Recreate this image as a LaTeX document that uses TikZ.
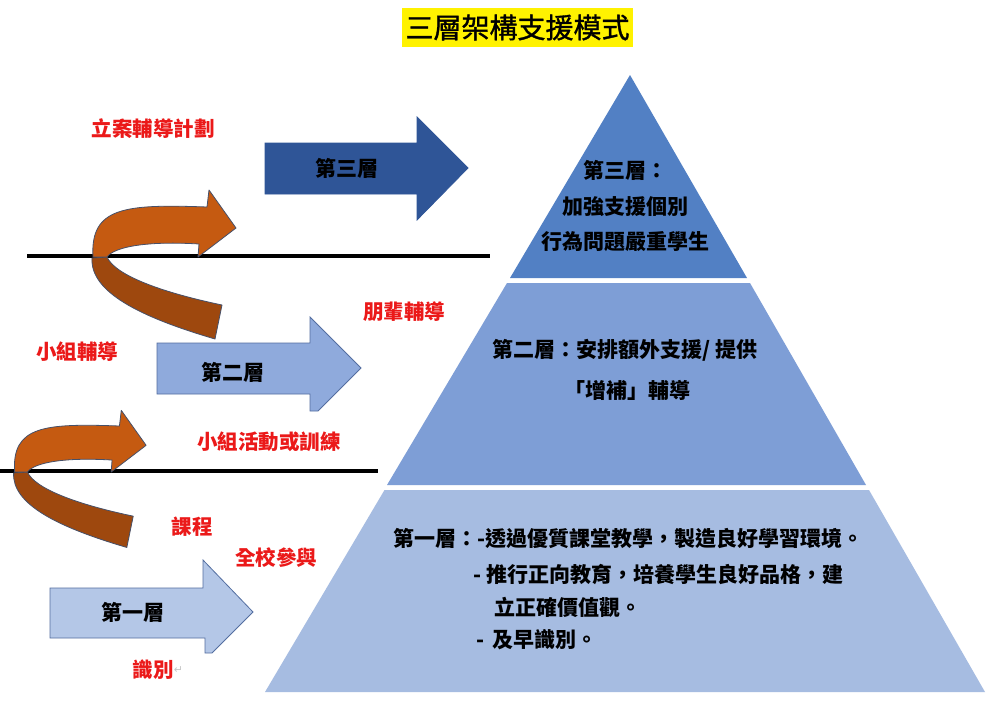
\documentclass[tikz,border=0pt]{standalone}
\usepackage{fontspec}
\setmainfont{Noto Sans CJK TC}
\newfontfamily\titlefont{Noto Sans CJK TC}[FakeBold=1.2]
\newfontfamily\dejavu{DejaVu Sans}

\definecolor{tierA}{RGB}{82,128,196}
\definecolor{tierB}{RGB}{126,158,214}
\definecolor{tierC}{RGB}{166,188,225}
\definecolor{arrDark}{RGB}{47,85,151}
\definecolor{arrMid}{RGB}{143,170,220}
\definecolor{arrLight}{RGB}{180,199,231}
\definecolor{arrEdge}{RGB}{84,110,160}
\definecolor{orangeF}{RGB}{197,90,17}
\definecolor{orangeB}{RGB}{158,72,14}
\definecolor{curveEdge}{RGB}{70,80,105}
\definecolor{labelred}{RGB}{235,25,25}

\tikzset{
  redlabel/.style={text=labelred, font=\fontsize{20.5}{22}\selectfont\bfseries, inner sep=0pt},
  tiertext/.style={text=black, font=\fontsize{21}{23}\selectfont\bfseries, inner sep=0pt},
  blocklabel/.style={text=black, font=\fontsize{21}{23}\selectfont\bfseries, inner sep=0pt},
  divider/.style={line width=3.5pt, black},
  curvefront/.style={fill=orangeF, draw=curveEdge, line width=0.8pt, line join=round},
  curveback/.style={fill=orangeB, draw=curveEdge, line width=0.8pt, line join=round},
  tier/.style={draw=none}
}

\newcommand{\uturnarrow}{%
  \path[curveback] (-8,1) .. controls (-10,35) and (40,60) .. (115,82)
     -- (122,48) .. controls (60,35) and (15,18) .. (7,0) -- cycle;
  \path[curvefront] (-7,0) .. controls (-10,-50) and (25,-53) .. (107,-50)
     -- (109,-67) -- (136,-29) -- (98,0) -- (99,-13)
     .. controls (50,-16) and (15,-11) .. (7,0) -- cycle;
}

\begin{document}
\begin{tikzpicture}[x=1pt,y=-1pt]
\useasboundingbox[fill=white] (0,0) rectangle (1000,717);

% title
\node[fill=yellow, minimum width=231pt, minimum height=39pt, inner sep=0pt,
      font=\titlefont\fontsize{28}{30}\selectfont] (title) at (517.5,27.5) {三層架構支援模式};

% pyramid tiers
\fill[tierA] (630,75) -- (747,278) -- (510,278) -- cycle;
\fill[tierB] (507,283) -- (750,283) -- (866,485) -- (387,485) -- cycle;
\fill[tierC] (384.5,490) -- (869,490) -- (985,692) -- (265,692) -- cycle;

% pyramid texts
\node[tiertext] (t3a) at (625,170) {第三層：};
\node[tiertext] (t3b) at (625,207) {加強支援個別};
\node[tiertext] (t3c) at (625,242) {行為問題嚴重學生};

\node[tiertext] (t2a) at (625,350) {第二層：安排額外支援/ 提供};
\node[tiertext] (t2b) at (627,390) {「增補」輔導};

\node[tiertext, anchor=west] (t1a) at (393,539) {第一層：-透過優質課堂教學，製造良好學習環境。};
\node[tiertext, anchor=west] (t1b) at (473,575) {- 推行正向教育，培養學生良好品格，建};
\node[tiertext, anchor=west] (t1c) at (494,607) {立正確價值觀。};
\node[tiertext, anchor=west] (t1d) at (476,640) {-\hspace{8pt}及早識別。};

% divider lines
\coordinate (l1a) at (27,256);
\coordinate (l1b) at (490,256);
\coordinate (l2a) at (0,471);
\coordinate (l2b) at (378,471);
\draw[divider] (l1a) -- (l1b);
\draw[divider] (l2a) -- (l2b);

% block arrows
\draw[fill=arrDark, draw=arrDark, line width=0.8pt, line join=miter]
  (265,143) -- (417,143) -- (417,117) -- (468,168) -- (417,220) -- (417,194) -- (265,194) -- cycle;
\node[blocklabel] (b3) at (347,168) {第三層};

\draw[fill=arrMid, draw=arrEdge, line width=0.8pt]
  (157,343) -- (310,343) -- (310,317) -- (361,368) -- (318,411) -- (310,411) -- (310,394) -- (157,394) -- cycle;
\node[blocklabel] (b2) at (233,372) {第二層};

\draw[fill=arrLight, draw=arrEdge, line width=0.8pt]
  (50,588) -- (203,588) -- (203,560) -- (253,612) -- (212,653) -- (205,653) -- (205,638) -- (50,638) -- cycle;
\node[blocklabel] (b1) at (133,612) {第一層};

% curved (u-turn) arrows
\begin{scope}[shift={(100,257)}]
  \uturnarrow
\end{scope}
\begin{scope}[shift={(21,472)}, scale=0.92]
  \uturnarrow
\end{scope}

% red labels
\node[redlabel] (r1) at (153,129) {立案輔導計劃};
\node[redlabel] (r2) at (404,312) {朋輩輔導};
\node[redlabel] (r3) at (77,352) {小組輔導};
\node[redlabel] (r4) at (269,442) {小組活動或訓練};
\node[redlabel] (r5) at (192,527) {課程};
\node[redlabel] (r6) at (276,558) {全校參與};
\node[redlabel] (r7) at (153,670) {識別};
\node[text=black!22, font=\dejavu\fontsize{11}{12}\selectfont, inner sep=0pt, anchor=west] (r7m) at (r7.east) {↵};
\end{tikzpicture}
\end{document}
